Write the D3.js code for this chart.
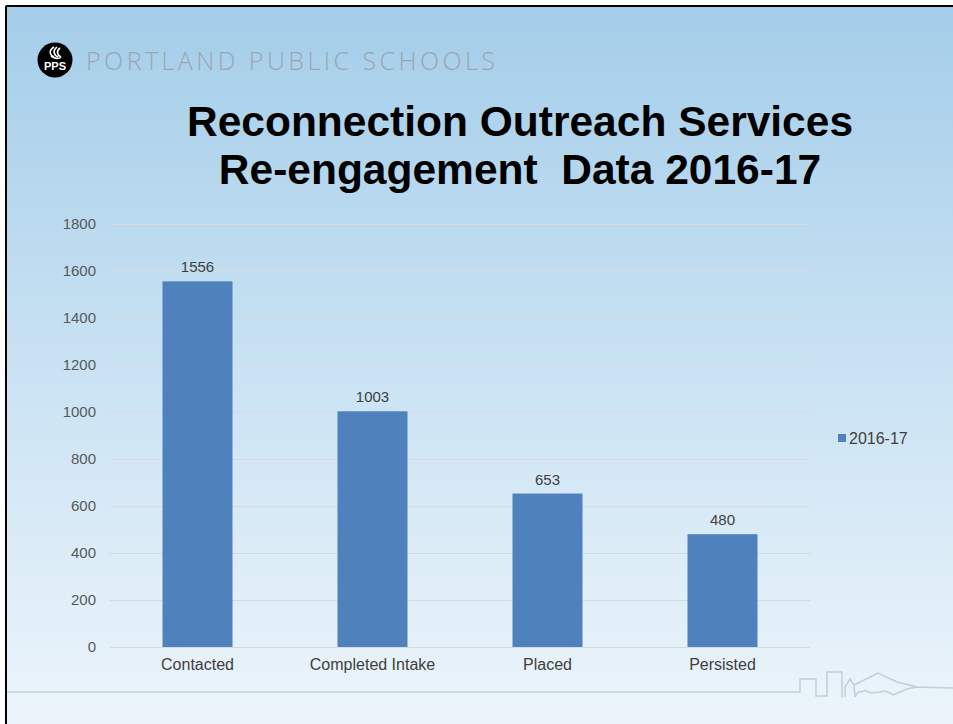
<!DOCTYPE html>
<html>
<head>
<meta charset="utf-8">
<script src="https://d3js.org/d3.v7.min.js"></script>
<style>
  body { margin: 0; background: #fff; }
  svg { display: block; }
</style>
</head>
<body>
<script>

//Data
var categories = ["Contacted", "Completed Intake", "Placed", "Persisted"];
var values = [1556, 1003, 653, 480];
var seriesName = "2016-17";
var yTicks = [0, 200, 400, 600, 800, 1000, 1200, 1400, 1600, 1800];
var titleLines = ["Reconnection Outreach Services", "Re-engagement  Data 2016-17"];

var W = 953, H = 724;
var labelFont = "Liberation Sans, Arial, sans-serif";

var svg = d3.select("body")
    .append("svg")
    .attr("width", W)
    .attr("height", H);

//Slide background
var defs = svg.append("defs");
var grad = defs.append("linearGradient")
    .attr("id", "bg")
    .attr("x1", 0).attr("y1", 0)
    .attr("x2", 0).attr("y2", 1);
grad.append("stop").attr("offset", "0%").attr("stop-color", "#a4cde9");
grad.append("stop").attr("offset", "55%").attr("stop-color", "#cde4f4");
grad.append("stop").attr("offset", "100%").attr("stop-color", "#edf5fb");

svg.append("rect")
    .attr("x", 5).attr("y", 5)
    .attr("width", W).attr("height", H)
    .attr("fill", "url(#bg)");

//black frame on top and left
svg.append("line").attr("x1", 6).attr("x2", W).attr("y1", 6).attr("y2", 6)
    .attr("stroke", "#000").attr("stroke-width", 2);
svg.append("line").attr("x1", 6).attr("x2", 6).attr("y1", 6).attr("y2", H)
    .attr("stroke", "#000").attr("stroke-width", 2);

//Logo
var logo = svg.append("g").attr("transform", "translate(55,60)");
logo.append("circle").attr("r", 17.5).attr("fill", "#000");
logo.append("path")
    .attr("d", "M-1,-13 C-7,-9 -5,-5 -1,-3 M2,-13 C-3,-9 -1,-5 3,-3 M5,-12 C1,-9 2,-5 6,-3 M-4,-4 C0,-1 4,-1 6,-3")
    .attr("fill", "none").attr("stroke", "#fff").attr("stroke-width", 1.6);
logo.append("text")
    .attr("x", 0).attr("y", 10)
    .style("text-anchor", "middle")
    .attr("font-family", labelFont)
    .attr("font-weight", "bold")
    .attr("font-size", "11px")
    .attr("fill", "#fff")
    .text("PPS");

svg.append("text")
    .attr("x", 86).attr("y", 70)
    .attr("font-family", "Open Sans, sans-serif")
    .attr("font-weight", 300)
    .attr("font-size", "25px")
    .attr("fill", "#9aa6b1")
    .attr("textLength", 409)
    .attr("lengthAdjust", "spacing")
    .text("PORTLAND PUBLIC SCHOOLS");

//Title
svg.selectAll(".title")
    .data(titleLines)
    .enter().append("text")
    .attr("class", "title")
    .attr("x", 520)
    .attr("y", function(d, i) { return 136 + i * 48; })
    .style("text-anchor", "middle")
    .style("white-space", "pre")
    .attr("font-family", labelFont)
    .attr("font-weight", "bold")
    .attr("font-size", "42.5px")
    .attr("fill", "#000")
    .text(function(d) { return d; });

//Scales
var xScale = d3.scaleBand()
    .domain(categories)
    .range([110, 810])
    .paddingInner(0.6)
    .paddingOuter(0.3);

var yScale = d3.scaleLinear()
    .domain([0, 1800])
    .range([647, 224]);

//Gridlines + y labels
var yAxis = d3.axisLeft(yScale)
    .tickValues(yTicks)
    .tickFormat(d3.format("d"))
    .tickSize(-700)
    .tickPadding(14);

var gy = svg.append("g")
    .attr("class", "y axis")
    .attr("transform", "translate(110,0)")
    .call(yAxis);
gy.select(".domain").remove();
gy.selectAll(".tick line").attr("stroke", "#d6dbe0").attr("stroke-width", 1);
gy.selectAll(".tick text")
    .attr("font-family", labelFont)
    .attr("font-size", "15px")
    .attr("fill", "#595959");

//Bars
svg.append("g")
    .selectAll(".bar")
    .data(values)
    .enter().append("rect")
    .attr("class", "bar")
    .attr("x", function(d, i) { return xScale(categories[i]); })
    .attr("width", xScale.bandwidth())
    .attr("y", function(d) { return yScale(d); })
    .attr("height", function(d) { return yScale(0) - yScale(d); })
    .attr("fill", "#4f81bd");

//Value labels
svg.selectAll(".val")
    .data(values)
    .enter().append("text")
    .attr("class", "val")
    .attr("x", function(d, i) { return xScale(categories[i]) + xScale.bandwidth() / 2; })
    .attr("y", function(d) { return yScale(d) - 9; })
    .style("text-anchor", "middle")
    .attr("font-family", labelFont)
    .attr("font-size", "15px")
    .attr("fill", "#404040")
    .text(function(d) { return d; });

//X axis (labels only)
var xAxis = d3.axisBottom(xScale).tickSize(0).tickPadding(12);
var gx = svg.append("g")
    .attr("class", "x axis")
    .attr("transform", "translate(0,647)")
    .call(xAxis);
gx.select(".domain").remove();
gx.selectAll(".tick text")
    .attr("font-family", labelFont)
    .attr("font-size", "16px")
    .attr("fill", "#404040");

//Legend
svg.append("rect")
    .attr("x", 838).attr("y", 434)
    .attr("width", 8).attr("height", 8)
    .attr("fill", "#4f81bd");
svg.append("text")
    .attr("x", 849).attr("y", 444)
    .attr("font-family", labelFont)
    .attr("font-size", "16px")
    .attr("fill", "#404040")
    .text(seriesName);

//Footer rule with skyline
svg.append("path")
    .attr("d", "M7,692 L800,692 L800,679 L816,679 L816,696 L827,696 L827,672 L842,672 L842,698 " +
               "M845,697 L845,687 L850,679 L854,685 L855,697 M855,697 Q858,690 862,692 Q866,689 870,693 " +
               "L880,692 Q885,690 890,693 L893,695 L900,692 L907,689 L917,687 L953,688 " +
               "M854,685 L878,673 L897,682 L917,687")
    .attr("fill", "none")
    .attr("stroke", "#c3ced8")
    .attr("stroke-width", 1.5);

</script>
</body>
</html>
